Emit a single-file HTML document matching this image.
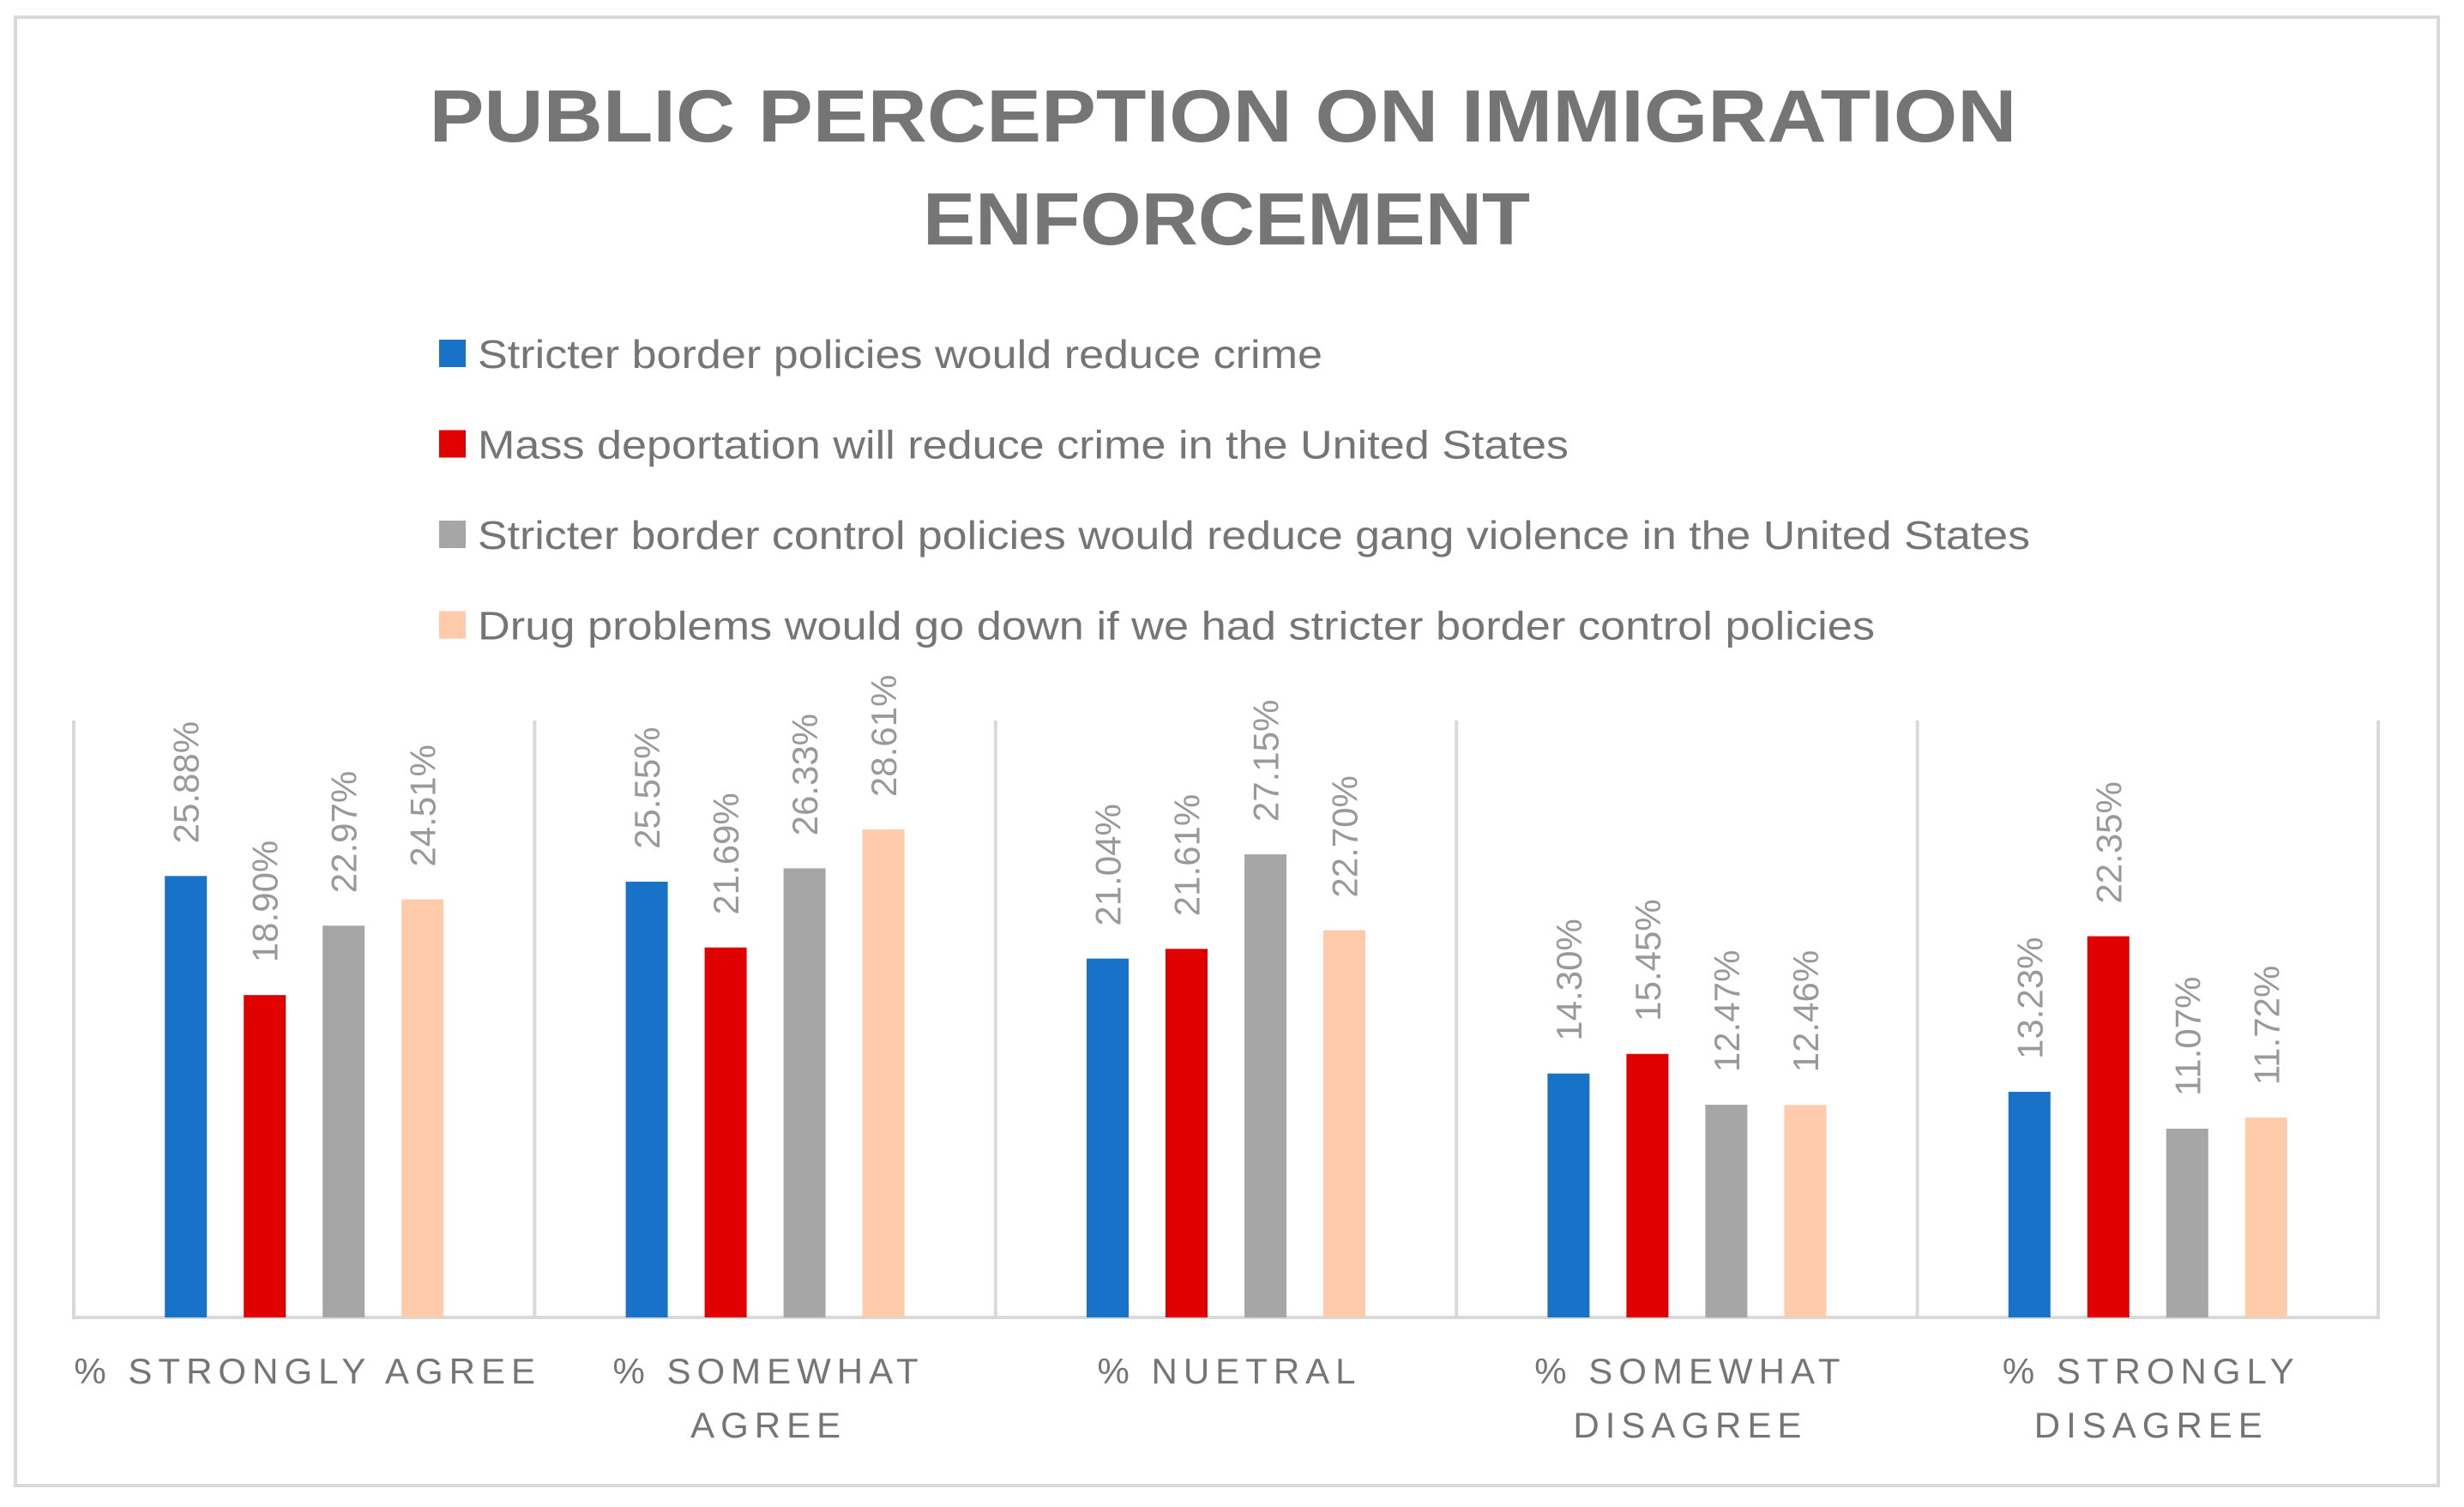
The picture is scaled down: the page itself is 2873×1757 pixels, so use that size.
<!DOCTYPE html>
<html><head><meta charset="utf-8"><style>
html,body{margin:0;padding:0;background:#fff;}
svg{display:block;font-family:"Liberation Sans",sans-serif;}
</style></head><body>
<svg id="chart" width="2873" height="1757" viewBox="0 0 2873 1757" xmlns="http://www.w3.org/2000/svg">
<rect x="18" y="20" width="2825" height="1712" fill="#fff" stroke="#d9d9d9" stroke-width="4"/>
<text x="1426" y="165" text-anchor="middle" font-size="86" font-weight="bold" fill="#757575" textLength="1851" lengthAdjust="spacingAndGlyphs">PUBLIC PERCEPTION ON IMMIGRATION</text>
<text x="1430" y="285" text-anchor="middle" font-size="86" font-weight="bold" fill="#757575" textLength="708" lengthAdjust="spacingAndGlyphs">ENFORCEMENT</text>
<g id="legend"></g>
<g id="grid"></g>
<g id="bars"></g>
<g id="labels"></g>
<g id="xlabels"></g>
</svg>
<script>
const categories = [["% STRONGLY AGREE"],["% SOMEWHAT","AGREE"],["% NUETRAL"],["% SOMEWHAT","DISAGREE"],["% STRONGLY","DISAGREE"]];
const seriesNames = ["Stricter border policies would reduce crime","Mass deportation will reduce crime in the United States","Stricter border control policies would reduce gang violence in the United States","Drug problems would go down if we had stricter border control policies"];
const seriesBorder = [25.88,25.55,21.04,14.30,13.23];
const seriesDeport = [18.90,21.69,21.61,15.45,22.35];
const seriesGang = [22.97,26.33,27.15,12.47,11.07];
const seriesDrug = [24.51,28.61,22.70,12.46,11.72];
const yMax = 35;

const series=[seriesBorder,seriesDeport,seriesGang,seriesDrug];
const colors=["#1772C8","#E00000","#A6A6A6","#FFCBAB"];
const legendWidths=[985,1272,1810,1629];
const NS="http://www.w3.org/2000/svg";
const L=86,R=2773,T=840,B=1536;
const gw=(R-L)/categories.length;
function y(v){return B-(v/yMax)*(B-T);}
function mk(tag,attrs,parent){const e=document.createElementNS(NS,tag);for(const k in attrs)e.setAttribute(k,attrs[k]);parent.appendChild(e);return e;}
const lg=document.getElementById('legend');
series.forEach((s,i)=>{
  const yy=429+i*105.5;
  const r=mk('rect',{x:512,y:yy-33,width:31,height:32,fill:colors[i]},lg);
  
  
  const t=mk('text',{x:557,y:yy,'font-size':46,fill:'#757575',textLength:legendWidths[i],lengthAdjust:'spacingAndGlyphs'},lg);
  t.textContent=seriesNames[i];
  
  
});
const gr=document.getElementById('grid');
for(let g=0;g<=categories.length;g++){
  const x=L+g*gw;
  const l=mk('line',{x1:x,y1:T,x2:x,y2:B,stroke:'#d9d9d9','stroke-width':4},gr);
  
  
}
const ax=mk('line',{x1:L-2,y1:B,x2:R+2,y2:B,stroke:'#d9d9d9','stroke-width':4},gr);


const bg=document.getElementById('bars'),lb=document.getElementById('labels'),xl=document.getElementById('xlabels');
const bw=49,step=92;
categories.forEach((c,ci)=>{
  const cx=L+gw*(ci+0.5);
  series.forEach((s,si)=>{
    const bx=cx+(si-1.5)*step-bw/2;
    const v=s[ci];
    const r=mk('rect',{x:bx,y:y(v),width:bw,height:B-y(v),fill:colors[si]},bg);
    
    
    const tx=bx+bw/2+15, ty=y(v)-38;
    const t=mk('text',{x:tx,y:ty,'font-size':42,fill:'#999999',transform:'rotate(-90 '+tx+' '+ty+')'},lb);
    t.textContent=v.toFixed(2)+'%';
    
    
  });
  c.forEach((line,li)=>{
    const t=mk('text',{x:cx+4,y:1613+li*63,'text-anchor':'middle','font-size':42,fill:'#757575','letter-spacing':7},xl);
    t.textContent=line;
    
    
  });
});
</script>
</body></html>
